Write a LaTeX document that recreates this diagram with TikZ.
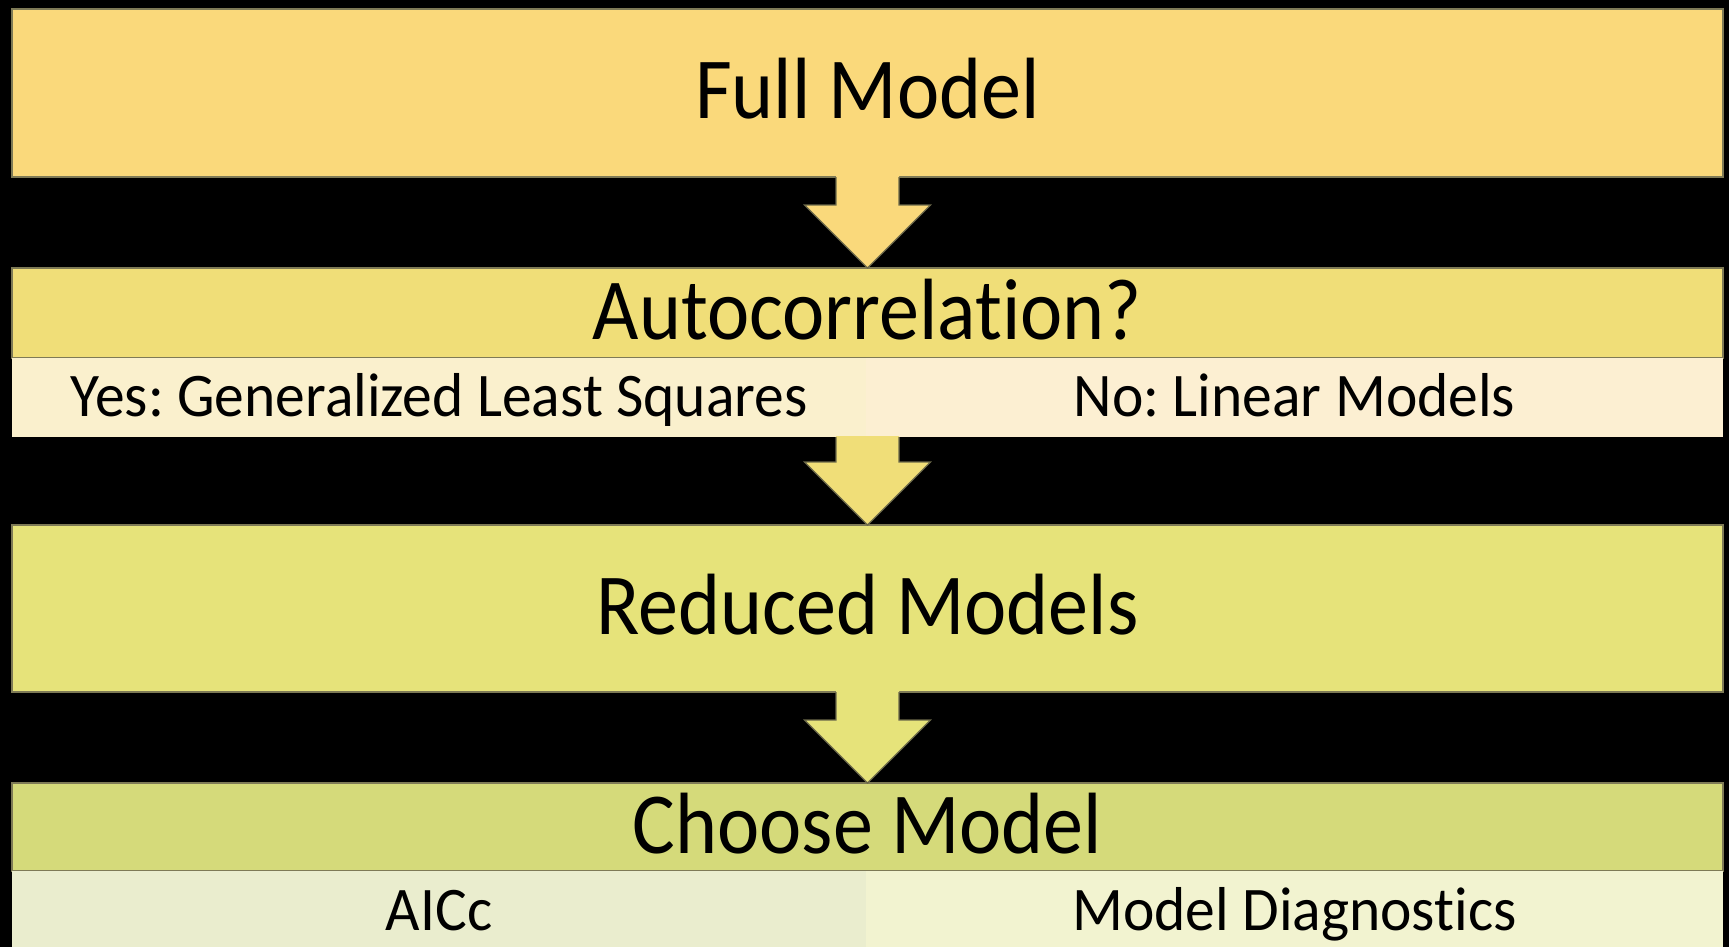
\documentclass[tikz,border=0pt]{standalone}
\usepackage{fontspec}
\newfontfamily\headfont{Carlito}[FakeStretch=0.92, RawFeature={-liga;-dlig}]
\newfontfamily\subfont{Carlito}[FakeStretch=0.96, RawFeature={-liga;-dlig}]
\usetikzlibrary{calc}
\frenchspacing

% stage colours
\definecolor{cFull}{HTML}{FAD97B}
\definecolor{cAuto}{HTML}{F0DE78}
\definecolor{cReduced}{HTML}{E6E37A}
\definecolor{cChoose}{HTML}{D5DA7A}
\definecolor{cYes}{HTML}{FAF0CD}
\definecolor{cNo}{HTML}{FCEFD2}
\definecolor{cAic}{HTML}{EAEDCE}
\definecolor{cDiag}{HTML}{F2F3D0}
\definecolor{boxedge}{HTML}{7E7A56}

% down arrow from the bottom of #1 to the top of #2, filled with #3
\newcommand\flowarrow[3]{%
  \coordinate (fa-top) at (#2.north |- #1.south);
  \fill[#3] ($(fa-top)+(-31.5,-1)$) -- ($(#2.north)+(-31.5,-63)$)
    -- ($(#2.north)+(-63,-63)$) -- (#2.north) -- ($(#2.north)+(63,-63)$)
    -- ($(#2.north)+(31.5,-63)$) -- ($(fa-top)+(31.5,-1)$) -- cycle;
  \draw[arrowedge] ($(fa-top)+(-31.5,0)$) -- ($(#2.north)+(-31.5,-63)$)
    -- ($(#2.north)+(-63,-63)$) -- (#2.north) -- ($(#2.north)+(63,-63)$)
    -- ($(#2.north)+(31.5,-63)$) -- ($(fa-top)+(31.5,0)$);
}

\begin{document}
\begin{tikzpicture}[x=0.5pt,y=-0.5pt,
  box/.style={draw=boxedge, line width=0.6pt, inner sep=0pt, outer sep=0pt,
    text height=26pt, text depth=0pt,
    font=\headfont\fontsize{43.5}{50}\selectfont},
  subbox/.style={inner sep=0pt, outer sep=0pt,
    text height=18.5pt, text depth=0pt,
    font=\subfont\fontsize{31}{36}\selectfont},
  arrowedge/.style={draw=boxedge!85!black, line width=0.6pt, line join=miter}]

\path[use as bounding box] (0,0) rectangle (1729,947);
\fill[black] (0,0) rectangle (1729,947);
\clip (0,0) rectangle (1729,947);

% stages
\node[box, fill=cFull, minimum width=855.5pt, minimum height=84pt]
  (full) at (867.5,93) {Full Model};

\node[box, fill=cAuto, minimum width=855.5pt, minimum height=45pt]
  (auto) at (867.5,313) {Autocorrelation?};
\node[subbox, fill=cYes, minimum width=427pt, minimum height=39.5pt]
  (yes) at (439,397.5) {Yes: Generalized Least Squares};
\node[subbox, fill=cNo, minimum width=428.5pt, minimum height=39.5pt]
  (no) at (1294.5,397.5) {No: Linear Models};

\node[box, fill=cReduced, minimum width=855.5pt, minimum height=83.5pt]
  (reduced) at (867.5,608.5) {Reduced Models};

\node[box, fill=cChoose, minimum width=855.5pt, minimum height=44pt]
  (choose) at (867.5,827) {Choose Model};
\node[subbox, fill=cAic, minimum width=427pt, minimum height=40.5pt]
  (aicc) at (439,911.5) {AICc};
\node[subbox, fill=cDiag, minimum width=428.5pt, minimum height=40.5pt]
  (diag) at (1294.5,911.5) {Model Diagnostics};

% connectors
\flowarrow{full}{auto}{cFull}
\flowarrow{yes}{reduced}{cAuto}
\flowarrow{reduced}{choose}{cReduced}

\end{tikzpicture}
\end{document}
